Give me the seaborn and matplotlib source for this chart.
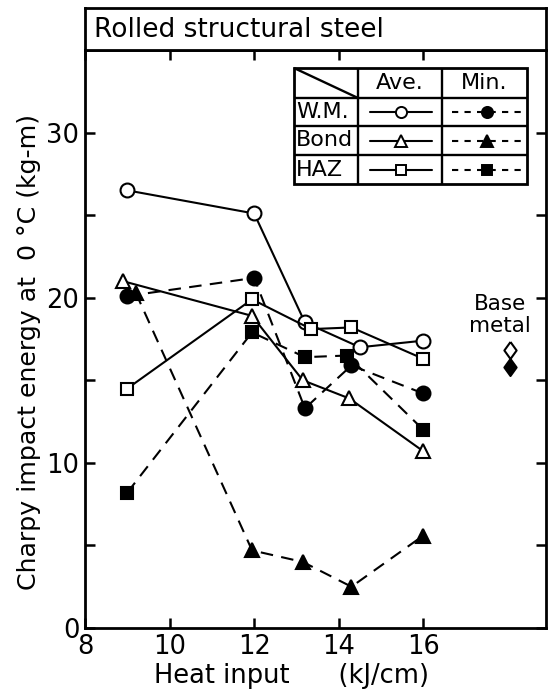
import matplotlib
matplotlib.use("Agg")
import matplotlib.pyplot as plt
import seaborn as sns
import pandas as pd
from matplotlib.lines import Line2D
from matplotlib.patches import Rectangle

# Heat input of each weld (kJ/cm)
x_wm = [9.0, 12.0, 13.2, 14.5, 16.0]
x_wm_min = [9.0, 12.0, 13.2, 14.3, 16.0]
x_bond_ave = [8.9, 11.95, 13.15, 14.25, 16.0]
x_bond_min = [9.2, 11.95, 13.15, 14.3, 16.0]
x_haz_ave = [9.0, 11.95, 13.35, 14.3, 16.0]
x_haz_min = [9.0, 11.95, 13.2, 14.2, 16.0]

# Charpy impact energy at 0 °C (kg-m)
wm_ave = [26.5, 25.1, 18.5, 17.0, 17.4]
wm_min = [20.1, 21.2, 13.3, 15.9, 14.2]
bond_ave = [21.0, 18.9, 15.0, 13.9, 10.7]
bond_min = [20.3, 4.7, 4.0, 2.5, 5.6]
haz_ave = [14.5, 19.9, 18.1, 18.2, 16.3]
haz_min = [8.2, 17.9, 16.4, 16.5, 12.0]

# Base metal values
base_x = [18.05, 18.05]
base_y = [16.85, 15.8]

row_labels = ["W.M.", "Bond", "HAZ"]
col_labels = ["Ave.", "Min."]

sns.set_theme(style="white")
plt.rcParams["font.family"] = ["DejaVu Sans"]
plt.rcParams["text.color"] = "black"
plt.rcParams["axes.labelcolor"] = "black"

fig = plt.figure(figsize=(5.48, 6.95), dpi=100)
ax = fig.add_axes([85 / 548, 1 - 628 / 695, 461 / 548, 578 / 695])

LW = 1.5
MS = 10
dash = (0, (6, 4))

series = [
    (x_wm, wm_ave, "o", "white", "-"),
    (x_wm_min, wm_min, "o", "black", dash),
    (x_bond_ave, bond_ave, "^", "white", "-"),
    (x_bond_min, bond_min, "^", "black", dash),
    (x_haz_ave, haz_ave, "s", "white", "-"),
    (x_haz_min, haz_min, "s", "black", dash),
]
for xs, ys, mk, fc, ls in series:
    df = pd.DataFrame({"x": xs, "y": ys})
    ms = MS if mk != "s" else MS - 1
    sns.lineplot(data=df, x="x", y="y", ax=ax, color="black", lw=LW,
                 linestyle=ls, marker=mk, markersize=ms, markerfacecolor=fc,
                 markeredgecolor="black", markeredgewidth=1.5, sort=False,
                 errorbar=None, zorder=3)

diamond = [(0, 1), (0.72, 0), (0, -1), (-0.72, 0), (0, 1)]
sns.scatterplot(x=base_x[:1], y=base_y[:1], ax=ax, marker=diamond, s=150,
                color="white", edgecolor="black", linewidth=1.5, zorder=4)
sns.scatterplot(x=base_x[1:], y=base_y[1:], ax=ax, marker=diamond, s=150,
                color="black", edgecolor="black", linewidth=1.5, zorder=4)
ax.text(17.82, 19.6, "Base", ha="center", va="center", fontsize=15.5)
ax.text(17.82, 18.3, "metal", ha="center", va="center", fontsize=15.5)

ax.set_xlim(8, 18.9)
ax.set_ylim(0, 35)
ax.set_xticks([8, 10, 12, 14, 16])
ax.set_yticks([0, 10, 20, 30])
ax.set_yticks([5, 15, 25], minor=True)
ax.tick_params(axis="both", which="both", direction="in", length=7, width=1.8,
               color="black", labelsize=18.5, labelcolor="black")
ax.tick_params(axis="y", which="both", right=True, left=True, pad=4)
ax.tick_params(axis="x", which="both", top=True, bottom=True, pad=4)
for s in ax.spines.values():
    s.set_visible(True)
    s.set_color("black")
    s.set_linewidth(2.0)

ax.set_xlabel("Heat input      (kJ/cm)", fontsize=18.5, color="black")
ax.xaxis.set_label_coords(0.447, -0.0955, transform=ax.transAxes)
ax.xaxis.label.set_va("baseline")
ax.set_ylabel("Charpy impact energy at  0 °C (kg-m)", fontsize=18.2, color="black")
ax.yaxis.set_label_coords(-0.121, 0.478, transform=ax.transAxes)
ax.yaxis.label.set_va("center")

# Title band above the plotting area
tax = fig.add_axes([85 / 548, 1 - 50 / 695, 461 / 548, 42 / 695])
tax.set_xticks([])
tax.set_yticks([])
for s in tax.spines.values():
    s.set_visible(True)
    s.set_color("black")
    s.set_linewidth(2.0)
tax.text(0.02, 0.48, "Rolled structural steel", ha="left", va="center",
         fontsize=19, color="black", transform=tax.transAxes)

# Key table
T = ax.transAxes
def ax_x(px):
    return (px - 85) / 461
def ax_y(py):
    return (628 - py) / 578

cols = [294, 358, 442, 527]
rows = [68, 98, 126, 155, 184]
kw = dict(transform=T, color="black", lw=1.7, solid_capstyle="butt", clip_on=False, zorder=5)
ax.add_patch(Rectangle((ax_x(cols[0]), ax_y(rows[-1])), ax_x(cols[-1]) - ax_x(cols[0]),
                       ax_y(rows[0]) - ax_y(rows[-1]), transform=T, facecolor="white",
                       edgecolor="black", lw=2.0, zorder=5))
for c in cols[1:-1]:
    ax.add_line(Line2D([ax_x(c)] * 2, [ax_y(rows[0]), ax_y(rows[-1])], **kw))
for r in rows[1:-1]:
    ax.add_line(Line2D([ax_x(cols[0]), ax_x(cols[-1])], [ax_y(r)] * 2, **kw))
ax.add_line(Line2D([ax_x(cols[0]), ax_x(cols[1])], [ax_y(rows[0]), ax_y(rows[1])], **kw))

for j, lab in enumerate(col_labels):
    ax.text(ax_x((cols[j + 1] + cols[j + 2]) / 2), ax_y((rows[0] + rows[1]) / 2), lab,
            transform=T, ha="center", va="center", fontsize=16, zorder=6)
markers = ["o", "^", "s"]
for i, lab in enumerate(row_labels):
    yc = ax_y((rows[i + 1] + rows[i + 2]) / 2)
    ax.text(ax_x(cols[0] + 2), yc, lab, transform=T, ha="left", va="center",
            fontsize=16, zorder=6)
    ms = 8 if markers[i] != "s" else 7
    ax.add_line(Line2D([ax_x(370), ax_x(432)], [yc, yc], transform=T, color="black",
                       lw=LW, zorder=6))
    ax.add_line(Line2D([ax_x(401)], [yc], transform=T, marker=markers[i], ms=ms,
                       mfc="white", mec="black", mew=1.4, lw=0, zorder=7))
    ax.add_line(Line2D([ax_x(452), ax_x(522)], [yc, yc], transform=T, color="black",
                       lw=LW, linestyle=(0, (3, 3)), zorder=6))
    ax.add_line(Line2D([ax_x(487)], [yc], transform=T, marker=markers[i], ms=ms,
                       mfc="black", mec="black", mew=1.4, lw=0, zorder=7))

fig.savefig("out.png", dpi=100)
